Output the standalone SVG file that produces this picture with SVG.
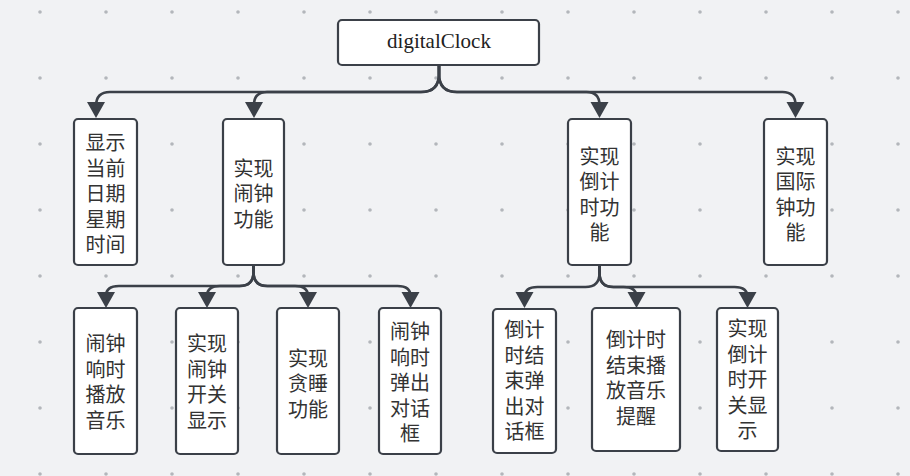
<svg xmlns="http://www.w3.org/2000/svg" width="910" height="476" viewBox="0 0 910 476">
<defs>
<pattern id="dots" x="7" y="-21" width="66" height="66" patternUnits="userSpaceOnUse">
<circle cx="33" cy="33" r="1.8" fill="#b3b6bb"/>
</pattern>
<style>
.box{fill:#ffffff;stroke:#3b4048;stroke-width:2.2}
.t{font-family:"Noto Sans CJK SC","Noto Sans",sans-serif;font-size:20px;fill:#333333;text-anchor:middle;dominant-baseline:central}
.en{font-family:"Liberation Serif","DejaVu Serif",serif;font-size:21px;fill:#222222;text-anchor:middle;dominant-baseline:central}
.c{fill:none;stroke:#3b4048;stroke-width:2.6}
.a{fill:#3b4048}
</style>
</defs>
<rect width="910" height="476" fill="#f1f2f4"/>
<rect width="910" height="476" fill="url(#dots)"/>
<g id="connectors">
<path class="c" d="M439,65 V74 Q439,92 421,92 H110 Q96,92 96,106"/>
<path class="c" d="M439,65 V74 Q439,92 421,92 H267 Q254,92 254,105"/>
<path class="c" d="M439,65 V74 Q439,92 457,92 H586.5 Q599.5,92 599.5,105"/>
<path class="c" d="M439,65 V74 Q439,92 457,92 H782.5 Q795.5,92 795.5,105"/>
<path class="c" d="M253.5,265 V272 Q253.5,286 239.5,286 H119 Q106,286 106,296"/>
<path class="c" d="M253.5,265 V272 Q253.5,286 239.5,286 H220 Q207,286 207,296"/>
<path class="c" d="M253.5,265 V272 Q253.5,286 267.5,286 H295 Q308,286 308,296"/>
<path class="c" d="M253.5,265 V272 Q253.5,286 267.5,286 H397.5 Q410.5,286 410.5,296"/>
<path class="c" d="M599.5,265 V273 Q599.5,287 585.5,287 H537.5 Q524.5,287 524.5,297"/>
<path class="c" d="M599.5,265 V273 Q599.5,287 613.5,287 H623.5 Q636.5,287 636.5,297"/>
<path class="c" d="M599.5,265 V273 Q599.5,287 613.5,287 H734.5 Q747.5,287 747.5,297"/>
<polygon class="a" points="87,102 105,102 96,118"/>
<polygon class="a" points="245,102 263,102 254,118"/>
<polygon class="a" points="590.5,102 608.5,102 599.5,118"/>
<polygon class="a" points="786.5,102 804.5,102 795.5,118"/>
<polygon class="a" points="97,292 115,292 106,308"/>
<polygon class="a" points="198,292 216,292 207,308"/>
<polygon class="a" points="299,292 317,292 308,308"/>
<polygon class="a" points="401.5,292 419.5,292 410.5,308"/>
<polygon class="a" points="515.5,292 533.5,292 524.5,308"/>
<polygon class="a" points="627.5,292 645.5,292 636.5,308"/>
<polygon class="a" points="738.5,292 756.5,292 747.5,308"/>
</g>
<g id="root">
<rect class="box" x="338" y="20" width="201" height="45" rx="4"/>
<text class="en" x="439" y="41">digitalClock</text>
</g>
<g id="n-date">
<rect class="box" x="74" y="119" width="63" height="146" rx="4"/>
<text class="t" x="105.5" y="141"><tspan x="105.5">显示</tspan><tspan x="105.5" dy="25.5">当前</tspan><tspan x="105.5" dy="25.5">日期</tspan><tspan x="105.5" dy="25.5">星期</tspan><tspan x="105.5" dy="25.5">时间</tspan></text>
</g>
<g id="n-alarm">
<rect class="box" x="223" y="119" width="61" height="146" rx="4"/>
<text class="t" x="253.5" y="166.5"><tspan x="253.5">实现</tspan><tspan x="253.5" dy="25.5">闹钟</tspan><tspan x="253.5" dy="25.5">功能</tspan></text>
</g>
<g id="n-countdown">
<rect class="box" x="568" y="119" width="63" height="146" rx="4"/>
<text class="t" x="599.5" y="154.5"><tspan x="599.5">实现</tspan><tspan x="599.5" dy="25.5">倒计</tspan><tspan x="599.5" dy="25.5">时功</tspan><tspan x="599.5" dy="25.5">能</tspan></text>
</g>
<g id="n-world">
<rect class="box" x="764" y="119" width="63" height="146" rx="4"/>
<text class="t" x="795.5" y="154.5"><tspan x="795.5">实现</tspan><tspan x="795.5" dy="25.5">国际</tspan><tspan x="795.5" dy="25.5">钟功</tspan><tspan x="795.5" dy="25.5">能</tspan></text>
</g>
<g id="n-alarm-music">
<rect class="box" x="74" y="308" width="63" height="146" rx="4"/>
<text class="t" x="105.5" y="342"><tspan x="105.5">闹钟</tspan><tspan x="105.5" dy="25.5">响时</tspan><tspan x="105.5" dy="25.5">播放</tspan><tspan x="105.5" dy="25.5">音乐</tspan></text>
</g>
<g id="n-alarm-switch">
<rect class="box" x="176" y="308" width="62" height="146" rx="4"/>
<text class="t" x="207" y="342"><tspan x="207">实现</tspan><tspan x="207" dy="25.5">闹钟</tspan><tspan x="207" dy="25.5">开关</tspan><tspan x="207" dy="25.5">显示</tspan></text>
</g>
<g id="n-snooze">
<rect class="box" x="277" y="308" width="62" height="146" rx="4"/>
<text class="t" x="308" y="356.5"><tspan x="308">实现</tspan><tspan x="308" dy="25.5">贪睡</tspan><tspan x="308" dy="25.5">功能</tspan></text>
</g>
<g id="n-alarm-dialog">
<rect class="box" x="379" y="308" width="62" height="146" rx="4"/>
<text class="t" x="410" y="330"><tspan x="410">闹钟</tspan><tspan x="410" dy="25.5">响时</tspan><tspan x="410" dy="25.5">弹出</tspan><tspan x="410" dy="25.5">对话</tspan><tspan x="410" dy="25.5">框</tspan></text>
</g>
<g id="n-cd-dialog">
<rect class="box" x="493" y="309" width="63" height="144" rx="4"/>
<text class="t" x="524.5" y="328"><tspan x="524.5">倒计</tspan><tspan x="524.5" dy="25.5">时结</tspan><tspan x="524.5" dy="25.5">束弹</tspan><tspan x="524.5" dy="25.5">出对</tspan><tspan x="524.5" dy="25.5">话框</tspan></text>
</g>
<g id="n-cd-music">
<rect class="box" x="592" y="308" width="88" height="143" rx="4"/>
<text class="t" x="636" y="338"><tspan x="636">倒计时</tspan><tspan x="636" dy="25.5">结束播</tspan><tspan x="636" dy="25.5">放音乐</tspan><tspan x="636" dy="25.5">提醒</tspan></text>
</g>
<g id="n-cd-switch">
<rect class="box" x="717" y="308" width="61" height="143" rx="4"/>
<text class="t" x="747.5" y="327"><tspan x="747.5">实现</tspan><tspan x="747.5" dy="25.5">倒计</tspan><tspan x="747.5" dy="25.5">时开</tspan><tspan x="747.5" dy="25.5">关显</tspan><tspan x="747.5" dy="25.5">示</tspan></text>
</g>
</svg>
